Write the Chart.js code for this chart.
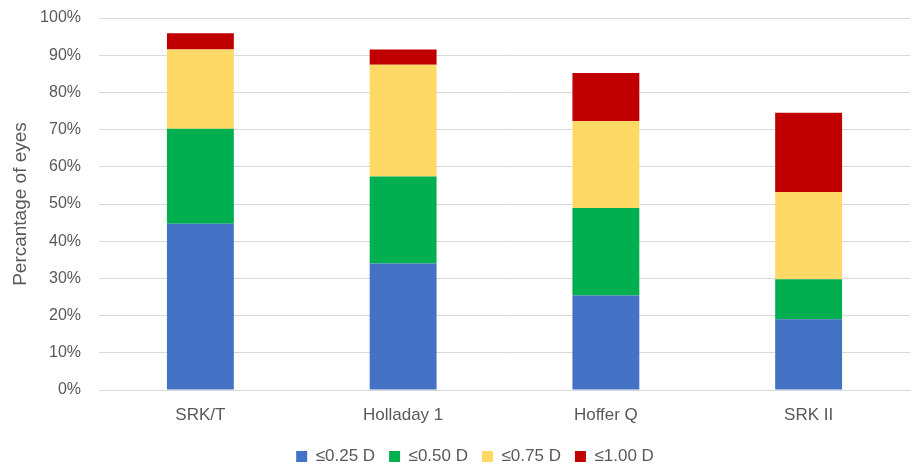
<!DOCTYPE html>
<html>
<head>
<meta charset="utf-8">
<script src="https://cdn.jsdelivr.net/npm/chart.js@4"></script>
<style>
  html, body { margin: 0; padding: 0; background: #fff; }
  #wrap { width: 912px; height: 467px; }
</style>
</head>
<body>
<div id="wrap"><canvas id="chart" width="912" height="467"></canvas></div>
<script>
const formulas = ['SRK/T', 'Holladay 1', 'Hoffer Q', 'SRK II'];
const seriesNames = ['≤0.25 D', '≤0.50 D', '≤0.75 D', '≤1.00 D'];
const within025 = [44.7, 34.0, 25.4, 19.0];
const within050 = [25.5, 23.4, 23.5, 10.8];
const within075 = [21.3, 30.0, 23.4, 23.4];
const within100 = [4.4, 4.1, 12.9, 21.3];
const yTicks = [0, 10, 20, 30, 40, 50, 60, 70, 80, 90, 100];

const colors = ['#4472C4', '#00B050', '#FFD966', '#C00000'];
const values = [within025, within050, within075, within100];
const textColor = '#595959';
const fontFamily = '"Liberation Sans", Arial, sans-serif';

// legend in the original sits a bit right of centre
const legendShift = {
    id: 'legendShift',
    afterLayout(chart) { chart.legend.left += 40; }
};

new Chart(document.getElementById('chart'), {
    type: 'bar',
    data: {
        labels: formulas,
        datasets: values.map((v, i) => ({
            label: seriesNames[i],
            data: v,
            backgroundColor: colors[i],
            borderWidth: 0,
            barPercentage: 0.33,
            categoryPercentage: 1
        }))
    },
    plugins: [legendShift],
    options: {
        responsive: false,
        animation: false,
        layout: { padding: { top: 0, right: 2, left: 0, bottom: -8 } },
        plugins: {
            tooltip: { enabled: false },
            legend: {
                position: 'bottom',
                labels: {
                    color: textColor,
                    font: { family: fontFamily, size: 17 },
                    boxWidth: 11,
                    boxHeight: 11,
                    padding: 14
                }
            }
        },
        scales: {
            x: {
                stacked: true,
                grid: { display: false, drawTicks: false },
                border: { color: '#d9d9d9' },
                ticks: {
                    color: textColor,
                    font: { family: fontFamily, size: 17 },
                    padding: 15
                },
                afterFit(scale) { scale.height = 44; }
            },
            y: {
                stacked: true,
                min: 0,
                max: 100,
                afterBuildTicks(scale) { scale.ticks = yTicks.map(v => ({ value: v })); },
                grid: { color: '#d9d9d9', drawTicks: false },
                border: { display: false },
                ticks: {
                    color: textColor,
                    font: { family: fontFamily, size: 16 },
                    padding: 18,
                    callback: v => v + '%'
                },
                title: {
                    display: true,
                    text: 'Percantage of eyes',
                    color: textColor,
                    font: { family: fontFamily, size: 19 },
                    padding: { top: 9, bottom: 0 }
                },
                afterFit(scale) {
                    scale.width = 99;
                    scale.paddingTop = 18;
                }
            }
        }
    }
});
</script>
</body>
</html>
